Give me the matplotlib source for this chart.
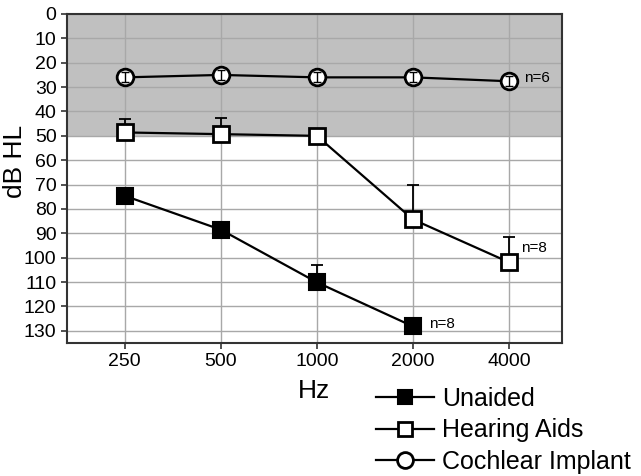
import numpy as np
import matplotlib.pyplot as plt

plt.rcParams['font.family'] = ['Liberation Sans', 'DejaVu Sans']

freqs = ["250", "500", "1000", "2000", "4000"]
unaided = [74.6, 88.5, 110.1, 128.2]
unaided_err = [0, 0, 7.0, 0]
hearing_aids = [48.6, 49.3, 50.0, 84.3, 101.9]
hearing_aids_err = [5.4, 6.7, 3.0, 14.3, 10.6]
cochlear = [26.0, 25.0, 26.0, 26.0, 27.6]
cochlear_err = [2.0, 2.0, 2.0, 2.0, 2.0]

x = np.arange(len(freqs))

fig = plt.figure(figsize=(6.41, 4.76), dpi=100)
ax = fig.add_axes([67 / 641, 1 - 343 / 476, (562 - 67) / 641, (343 - 14) / 476])

ax.axhspan(0, 50, color='#c0c0c0', zorder=0, lw=0)
ax.grid(True, color='#a8a8a8', lw=1.0, zorder=1)
ax.set_axisbelow(True)

# error bars (one-sided, drawn upward on the inverted axis)
ax.errorbar(x[:4], unaided, yerr=[unaided_err, [0] * 4], fmt='none',
            ecolor='black', elinewidth=1.3, capsize=4, capthick=1.3, zorder=2)
ax.errorbar(x, hearing_aids, yerr=[hearing_aids_err, [0] * 5], fmt='none',
            ecolor='black', elinewidth=1.3, capsize=4, capthick=1.3, zorder=2)

ax.plot(x[:4], unaided, '-s', color='black', lw=1.6, ms=11,
        mfc='black', mec='black', mew=1.5, zorder=3, label='Unaided')
ax.plot(x, hearing_aids, '-s', color='black', lw=1.6, ms=11,
        mfc='white', mec='black', mew=2, zorder=3, label='Hearing Aids')
ax.plot(x, cochlear, '-o', color='black', lw=1.6, ms=12,
        mfc='white', mec='black', mew=2, zorder=3, label='Cochlear Implant')
ax.errorbar(x, cochlear, yerr=cochlear_err, fmt='none', ecolor='black',
            elinewidth=1.0, capsize=3, capthick=1.0, zorder=4)

ax.text(x[4] + 0.15, cochlear[4] - 1.5, 'n=6', fontsize=11, va='center')
ax.text(x[4] + 0.12, hearing_aids[4] - 6, 'n=8', fontsize=11, va='center')
ax.text(x[3] + 0.17, unaided[3] - 1, 'n=8', fontsize=11, va='center')

ax.set_xlim(-0.6, 4.55)
ax.set_ylim(135, 0)
ax.set_xticks(x)
ax.set_xticklabels(freqs)
ax.set_yticks(np.arange(0, 131, 10))
ax.tick_params(labelsize=14, length=4, width=1.2, color='#333333')
for s in ax.spines.values():
    s.set_linewidth(1.5)
    s.set_color('#333333')

ax.set_xlabel('Hz', fontsize=19, labelpad=6)
ax.set_ylabel('dB HL', fontsize=19)
ax.yaxis.set_label_coords(-0.081, 0.553)

fig.legend(loc='upper left', bbox_to_anchor=(376 / 641, 1 - 387 / 476),
           frameon=False, fontsize=18, handlelength=2.3, handletextpad=0.35,
           labelspacing=0.3, borderaxespad=0, borderpad=0, markerscale=0.95)

fig.savefig('out.png', dpi=100)
